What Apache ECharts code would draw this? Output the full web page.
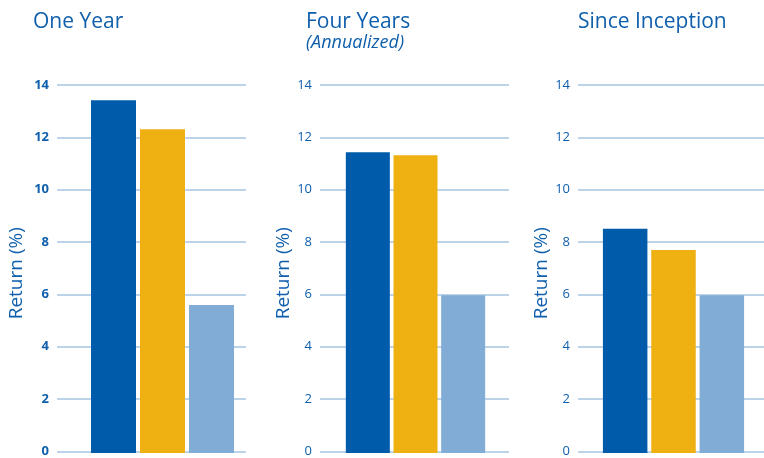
<!DOCTYPE html>
<html>
<head>
<meta charset="utf-8">
<script src="https://cdn.jsdelivr.net/npm/echarts@6/dist/echarts.min.js"></script>
<style>html,body{margin:0;padding:0;background:#fff}#c{width:764px;height:458px}</style>
</head>
<body>
<div id="c"></div>
<script>
var categories = ['Fund', 'Benchmark', 'Peer Group'];
var oneYear = [13.42, 12.32, 5.63];
var fourYears = [11.44, 11.33, 6.0];
var sinceInception = [8.53, 7.72, 6.0];
var panelTitles = ['One Year', 'Four Years', 'Since Inception'];
var panelSubtitles = ['', '(Annualized)', ''];
var yTicks = [0, 2, 4, 6, 8, 10, 12, 14];
var yName = 'Return (%)';

(function () {
var barColors = ['#005baa', '#efb112', '#81acd6'];
var textBlue = '#0f5fac';
var gridColor = '#a7c4e2';
var font = '"Open Sans", "Noto Sans", sans-serif';

var panels = [
  {data: oneYear, gl: 57, gw: 189, bl: 89, bw: 147, barW: 45, titleLeft: 33, bold: true, nameGap: 31},
  {data: fourYears, gl: 320, gw: 189, bl: 344, bw: 143, barW: 44, titleLeft: 306, bold: false, nameGap: 27},
  {data: sinceInception, gl: 578, gw: 190, bl: 601, bw: 145, barW: 44.5, titleLeft: 578, bold: false, nameGap: 25}
];
var plotTop = 85, plotHeight = 368;
var yMin = yTicks[0], yMax = yTicks[yTicks.length - 1], yStep = yTicks[1] - yTicks[0];

var grid = [], xAxis = [], yAxis = [], series = [], title = [];
panels.forEach(function (p, i) {
  title.push({
    text: panelTitles[i], subtext: panelSubtitles[i], left: p.titleLeft, top: 12, itemGap: 1, padding: 0,
    textStyle: {color: textBlue, fontSize: 21, fontWeight: 'normal', fontFamily: font},
    subtextStyle: {color: textBlue, fontSize: 18, fontStyle: 'italic', fontFamily: font}
  });
  grid.push({left: p.gl, width: p.gw, top: plotTop, height: plotHeight});
  xAxis.push({type: 'category', gridIndex: 2 * i, data: categories, show: false});
  yAxis.push({
    type: 'value', gridIndex: 2 * i, min: yMin, max: yMax, interval: yStep,
    name: yName, nameLocation: 'middle', nameGap: p.nameGap,
    nameTextStyle: {color: textBlue, fontSize: 19, fontFamily: font, padding: [0, 10, 0, 0]},
    axisLine: {show: false}, axisTick: {show: false},
    axisLabel: {color: textBlue, fontSize: 13, fontWeight: p.bold ? 'bold' : 'normal', fontFamily: font, margin: 8},
    splitLine: {lineStyle: {color: gridColor, width: 1.5}}
  });
  grid.push({left: p.bl, width: p.bw, top: plotTop, height: plotHeight});
  xAxis.push({type: 'category', gridIndex: 2 * i + 1, data: categories, show: false});
  yAxis.push({type: 'value', gridIndex: 2 * i + 1, min: yMin, max: yMax, interval: yStep, show: false, splitLine: {show: false}});
  series.push({
    type: 'bar', xAxisIndex: 2 * i + 1, yAxisIndex: 2 * i + 1, barWidth: p.barW,
    data: p.data.map(function (v, k) { return {value: v, itemStyle: {color: barColors[k]}}; }),
    silent: true
  });
});

var chart = echarts.init(document.getElementById('c'));
chart.setOption({animation: false, title: title, grid: grid, xAxis: xAxis, yAxis: yAxis, series: series});
})();
</script>
</body>
</html>
